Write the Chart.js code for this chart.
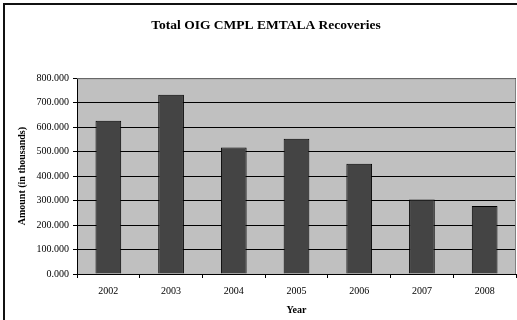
<!DOCTYPE html>
<html>
<head>
<meta charset="utf-8">
<script src="https://cdn.jsdelivr.net/npm/chart.js@4/dist/chart.umd.min.js"></script>
<style>
  html, body { margin: 0; padding: 0; background: #fff; }
  #wrap { width: 517px; height: 320px; position: relative; }
</style>
</head>
<body>
<div id="wrap"><canvas id="chart" width="517" height="320"></canvas></div>
<script>
// data
const years = ["2002", "2003", "2004", "2005", "2006", "2007", "2008"];
const recoveries = [626, 732, 517, 553, 450, 304, 278];
const yTicks = [0, 100, 200, 300, 400, 500, 600, 700, 800];

const serif = "'Liberation Serif', 'Times New Roman', serif";

// grey plot area + outer frame
const frame = {
  id: "frame",
  beforeDraw(chart) {
    const { ctx, chartArea: a } = chart;
    ctx.save();
    ctx.fillStyle = "#c0c0c0";
    ctx.fillRect(a.left, a.top, a.right - a.left, a.bottom - a.top);
    ctx.restore();
  },
  afterDraw(chart) {
    const { ctx, chartArea: a } = chart;
    ctx.save();
    ctx.strokeStyle = "#808080";
    ctx.lineWidth = 1;
    ctx.beginPath();
    ctx.moveTo(a.left, a.top + 0.5);
    ctx.lineTo(a.right - 0.5, a.top + 0.5);
    ctx.lineTo(a.right - 0.5, a.bottom);
    ctx.stroke();
    ctx.strokeStyle = "#111";
    ctx.lineWidth = 2;
    ctx.beginPath();
    ctx.moveTo(4, 320);
    ctx.lineTo(4, 4);
    ctx.lineTo(517, 4);
    ctx.stroke();
    ctx.restore();
  }
};

new Chart(document.getElementById("chart"), {
  type: "bar",
  data: {
    labels: years,
    datasets: [{
      data: recoveries,
      backgroundColor: "#444444",
      borderColor: "#000",
      borderWidth: 1,
      barPercentage: 0.41,
      categoryPercentage: 1
    }]
  },
  options: {
    responsive: false,
    animation: false,
    layout: { padding: { left: 16, right: 1, top: 5, bottom: 4 } },
    plugins: {
      legend: { display: false },
      tooltip: { enabled: false },
      title: {
        display: true,
        text: "Total OIG CMPL EMTALA Recoveries",
        color: "#000",
        font: { family: serif, size: 13.5, weight: "bold" },
        padding: { top: 12, bottom: 45 }
      }
    },
    scales: {
      x: {
        grid: { drawOnChartArea: false, color: "#000", tickLength: 4, offset: true },
        border: { color: "#000" },
        ticks: { color: "#000", font: { family: serif, size: 10 }, padding: 7, maxRotation: 0 },
        title: {
          display: true, text: "Year", color: "#000",
          font: { family: serif, size: 10, weight: "bold" },
          padding: { top: 4, bottom: 0 }
        },
        afterFit(s) { s.height = 42; }
      },
      y: {
        min: 0, max: 800,
        afterBuildTicks(s) { s.ticks = yTicks.map(v => ({ value: v })); },
        grid: { color: "#000", tickLength: 4 },
        border: { color: "#000" },
        ticks: {
          color: "#000", font: { family: serif, size: 10 }, padding: 4,
          callback: v => v.toFixed(3)
        },
        title: {
          display: true, text: "Amount (in thousands)", color: "#000",
          font: { family: serif, size: 10, weight: "bold" },
          padding: { top: 0, bottom: 4 }
        },
        afterFit(s) { s.width = 61; }
      }
    }
  },
  plugins: [frame]
});
</script>
</body>
</html>
